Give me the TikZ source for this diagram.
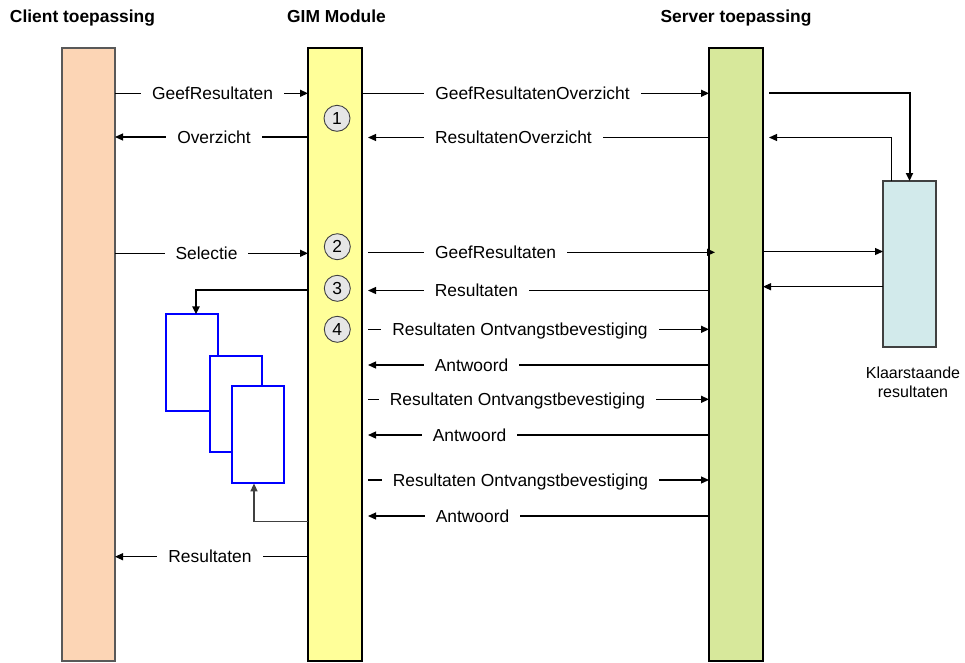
\documentclass[tikz,border=0pt]{standalone}
\usepackage{fontspec}
\setmainfont{Liberation Sans}
\usetikzlibrary{arrows.meta}
\definecolor{clientc}{HTML}{FCD5B5}
\definecolor{gimc}{HTML}{FFFF99}
\definecolor{serverc}{HTML}{D7E89B}
\definecolor{klaarc}{HTML}{D2EAEB}
\definecolor{circc}{HTML}{E6E6E6}
\definecolor{darkg}{HTML}{404040}
\begin{document}
\begin{tikzpicture}[x=1pt,y=-1pt,
  font=\fontsize{17.4pt}{20pt}\selectfont,
  bar/.style={draw=black, line width=1.2pt, inner sep=0pt, outer sep=0pt},
  arr/.style={line width=1.2pt, -{Triangle[length=8pt,width=7pt]}},
  lbl/.style={fill=white, inner xsep=11pt, inner ysep=2pt, anchor=base},
  ttl/.style={font=\fontsize{17.4pt}{20pt}\selectfont\bfseries, anchor=base},
  num/.style={circle, draw=darkg, fill=circc, line width=0.9pt, minimum size=26pt, inner sep=0pt},
  bluebox/.style={draw=blue, line width=2pt, fill=white, inner sep=0pt, outer sep=0pt},
]
\useasboundingbox (0,0) rectangle (965,662);

% titles
\node[ttl] (t1) at (82.5,22) {Client toepassing};
\node[ttl] (t2) at (336.5,22) {GIM Module};
\node[ttl] (t3) at (736,22) {Server toepassing};

% bars
\node[bar, draw=black!65, fill=clientc, minimum width=53pt, minimum height=613pt] (client) at (88.5,354.5) {};
\node[bar, fill=gimc, minimum width=54pt, minimum height=613pt] (gim) at (335,354.5) {};
\node[bar, fill=serverc, minimum width=54pt, minimum height=613pt] (server) at (736,354.5) {};
\node[bar, draw=darkg, fill=klaarc, minimum width=53pt, minimum height=166pt] (klaar) at (909.5,264) {};
\node[align=center, font=\fontsize{16pt}{19pt}\selectfont] (klaartxt) at (913,382) {Klaarstaande\\resultaten};

\coordinate (gimR) at ([xshift=6pt]gim.east);
\coordinate (srvIn) at ([xshift=6pt]server.west);
\coordinate (srvR) at ([xshift=6pt]server.east);

% numbered circles
\node[num] (c1) at (337,118.3) {1};
\node[num] (c2) at (337.3,246.7) {2};
\node[num] (c3) at (337.3,288.3) {3};
\node[num] (c4) at (337.3,329.3) {4};

% blue boxes
\node[bluebox, minimum width=51.7pt, minimum height=96.7pt] (boxA) at (191.8,362.7) {};
\node[bluebox, minimum width=52pt, minimum height=96.3pt] (boxB) at (236,404.2) {};
\node[bluebox, minimum width=52pt, minimum height=97.3pt] (boxC) at (258.3,434.7) {};

% client <-> GIM
\draw[arr] (client.east |- 0,93.3) -- (gim.west |- 0,93.3);
\node[lbl] (l1) at (212.5,99.5) {GeefResultaten};
\draw[arr] (gim.west |- 0,137) -- (client.east |- 0,137);
\node[lbl] (l2) at (214,143.2) {Overzicht};
\draw[arr] (client.east |- 0,253.3) -- (gim.west |- 0,253.3);
\node[lbl] (l3) at (206.5,259.5) {Selectie};
\draw[arr] (gim.west |- 0,556.7) -- (client.east |- 0,556.7);
\node[lbl] (l4) at (210,562.9) {Resultaten};

% GIM <-> server
\draw[arr] (gim.east |- 0,93.3) -- (server.west |- 0,93.3);
\node[lbl] (l5) at (532.5,99.5) {GeefResultatenOverzicht};
\draw[arr] (server.west |- 0,137.5) -- (gimR |- 0,137.5);
\node[lbl] (l6) at (513.5,143.7) {ResultatenOverzicht};
\draw[arr] (gimR |- 0,252.3) -- (srvIn |- 0,252.3);
\node[lbl] (l7) at (495.5,258.5) {GeefResultaten};
\draw[arr] (server.west |- 0,290.5) -- (gimR |- 0,290.5);
\node[lbl] (l8) at (476.5,296.7) {Resultaten};
\draw[arr] (gimR |- 0,329.3) -- (server.west |- 0,329.3);
\node[lbl] (l9) at (520,335.5) {Resultaten Ontvangstbevestiging};
\draw[arr] (server.west |- 0,365) -- (gimR |- 0,365);
\node[lbl] (l10) at (471.5,371.2) {Antwoord};
\draw[arr] (gimR |- 0,399.3) -- (server.west |- 0,399.3);
\node[lbl] (l11) at (517.5,405.5) {Resultaten Ontvangstbevestiging};
\draw[arr] (server.west |- 0,435) -- (gimR |- 0,435);
\node[lbl] (l12) at (469.5,441.2) {Antwoord};
\draw[arr] (gimR |- 0,480) -- (server.west |- 0,480);
\node[lbl] (l13) at (520.5,486.2) {Resultaten Ontvangstbevestiging};
\draw[arr] (server.west |- 0,516) -- (gimR |- 0,516);
\node[lbl] (l14) at (472.5,522.2) {Antwoord};

% server <-> klaarstaande
\draw[arr, line width=2pt] (srvR |- 0,93.3) -| (klaar.north);
\draw[arr] (klaar.north -| 891.7,0) |- (srvR |- 0,137.5);
\draw[arr] (server.east |- 0,251.5) -- (klaar.west |- 0,251.5);
\draw[arr] (klaar.west |- 0,286.7) -- (server.east |- 0,286.7);

% GIM -> blue boxes
\draw[arr, line width=2pt] (gim.west |- 0,290) -| (boxA.north -| 196,0);
\draw[arr, draw=darkg, line width=1.5pt] (gim.west |- 0,521.7) -| (boxC.south -| 254,0);
\end{tikzpicture}
\end{document}
